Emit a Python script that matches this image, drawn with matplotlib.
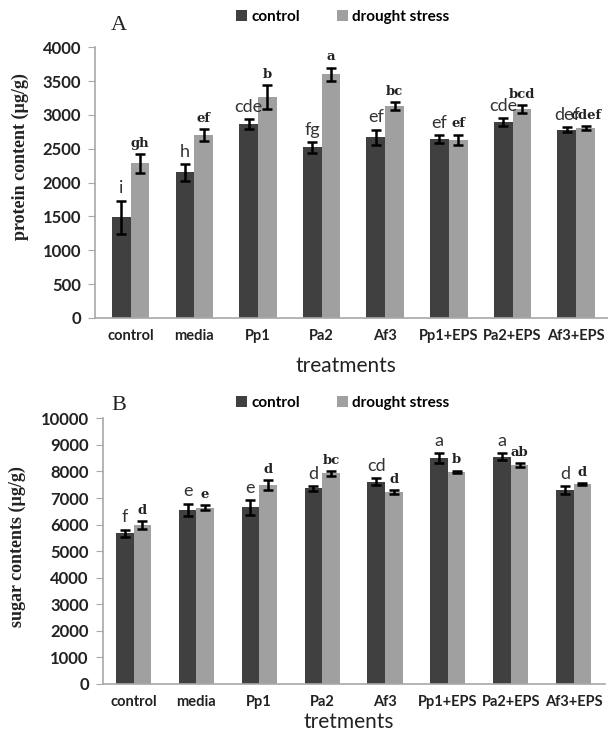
import numpy as np
import matplotlib.pyplot as plt

categories = ["control", "media", "Pp1", "Pa2", "Af3", "Pp1+EPS", "Pa2+EPS", "Af3+EPS"]

# panel A: protein content (ug/g)
protein_control = [1490, 2150, 2870, 2520, 2670, 2640, 2890, 2780]
protein_control_err = [245, 125, 75, 80, 115, 60, 60, 35]
protein_drought = [2285, 2705, 3270, 3600, 3135, 2630, 3085, 2810]
protein_drought_err = [143, 85, 175, 100, 55, 80, 60, 30]
protein_control_lbl = ["i", "h", "cde", "fg", "ef", "ef", "cde", "def"]
protein_drought_lbl = ["gh", "ef", "b", "a", "bc", "ef", "bcd", "cdef"]

# panel B: sugar contents (ug/g)
sugar_control = [5670, 6550, 6650, 7365, 7615, 8495, 8555, 7300]
sugar_control_err = [140, 240, 275, 95, 120, 190, 140, 140]
sugar_drought = [5985, 6635, 7490, 7930, 7215, 7990, 8230, 7530]
sugar_drought_err = [145, 105, 190, 90, 70, 40, 75, 35]
sugar_control_lbl = ["f", "e", "e", "d", "cd", "a", "a", "d"]
sugar_drought_lbl = ["d", "e", "d", "bc", "d", "b", "ab", "d"]

DARK = "#404040"
LIGHT = "#a0a0a0"
AXIS = "#a8a8a8"
TXT = "#222222"
SANS = "Lato"
SERIF = "DejaVu Serif"
YSERIF = "Liberation Serif"

W, H = 608, 738


def draw_panel(ax, ctrl, ctrl_err, drt, drt_err, ctrl_lbl, drt_lbl,
               ymax, ystep, ylabel, xlabel, xlim, width,
               ylabel_xy, xlabel_y, legend_xy):
    x = np.arange(len(categories))
    ax.bar(x - width / 2, ctrl, width, color=DARK, label="control")
    ax.bar(x + width / 2, drt, width, color=LIGHT, label="drought stress")
    ekw = dict(fmt="none", ecolor="black", elinewidth=1.8, capsize=3.5, capthick=1.8)
    ax.errorbar(x - width / 2, ctrl, yerr=ctrl_err, **ekw)
    ax.errorbar(x + width / 2, drt, yerr=drt_err, **ekw)

    for i in range(len(categories)):
        ax.annotate(ctrl_lbl[i], (x[i] - width / 2, ctrl[i] + ctrl_err[i]),
                    xytext=(0, 3), textcoords="offset points", ha="center",
                    va="bottom", fontsize=13, family=SANS, color="#333333")
        ax.annotate(drt_lbl[i], (x[i] + width / 2, drt[i] + drt_err[i]),
                    xytext=(0, 3), textcoords="offset points", ha="center",
                    va="bottom", fontsize=9.5, family=SERIF, weight="bold",
                    color=TXT)

    ax.set_xlim(*xlim)
    ax.set_ylim(0, ymax)
    ax.set_yticks(np.arange(0, ymax + 1, ystep))
    ax.set_xticks(x)
    ax.set_xticklabels(categories)
    ax.tick_params(axis="x", length=0, pad=8)
    ax.tick_params(axis="y", length=5, color=AXIS, direction="out", pad=5)
    for lab in ax.get_yticklabels():
        lab.set_family(SANS)
        lab.set_weight("bold")
        lab.set_fontsize(12)
        lab.set_color(TXT)
    for lab in ax.get_xticklabels():
        lab.set_family(SANS)
        lab.set_weight("bold")
        lab.set_fontsize(10.5)
        lab.set_color(TXT)
    for s in ["top", "right"]:
        ax.spines[s].set_visible(False)
    for s in ["left", "bottom"]:
        ax.spines[s].set_color(AXIS)
        ax.spines[s].set_linewidth(1.2)
    ax.set_ylabel(ylabel, family=YSERIF, weight="bold", fontsize=13, color=TXT,
                  va="center")
    ax.yaxis.set_label_coords(*ylabel_xy)
    ax.set_xlabel(xlabel, family=SANS, fontsize=15, color=TXT, va="center")
    ax.xaxis.set_label_coords(0.49, xlabel_y)
    ax.legend(loc="center", bbox_to_anchor=legend_xy,
              bbox_transform=ax.figure.transFigure, ncol=2, frameon=False,
              handlelength=0.7, handleheight=0.7, handletextpad=0.3,
              columnspacing=2.4, prop=dict(family=SANS, weight="bold", size=11))


fig = plt.figure(figsize=(W / 100, H / 100), dpi=100)

axA = fig.add_axes([95 / W, 1 - 318 / H, 513 / W, 270.7 / H])
draw_panel(axA, protein_control, protein_control_err, protein_drought,
           protein_drought_err, protein_control_lbl, protein_drought_lbl,
           4000, 500, "protein content (µg/g)", "treatments",
           (-0.56, 7.5), 0.295,
           (-0.146, 0.595), -0.178, (343 / W, 1 - 17 / H))
fig.text(119 / W, 1 - 25 / H, "A", family=YSERIF, fontsize=16, ha="center",
         va="center", color=TXT)

axB = fig.add_axes([102.7 / W, 1 - 684 / H, 502.3 / W, 265.7 / H])
draw_panel(axB, sugar_control, sugar_control_err, sugar_drought,
           sugar_drought_err, sugar_control_lbl, sugar_drought_lbl,
           10000, 1000, "sugar contents (µg/g)", "tretments",
           (-0.49, 7.5), 0.28,
           (-0.169, 0.516), -0.143, (343 / W, 1 - 403 / H))
fig.text(119 / W, 1 - 405 / H, "B", family=YSERIF, fontsize=16, ha="center",
         va="center", color=TXT)

fig.savefig("out.png", dpi=100)
